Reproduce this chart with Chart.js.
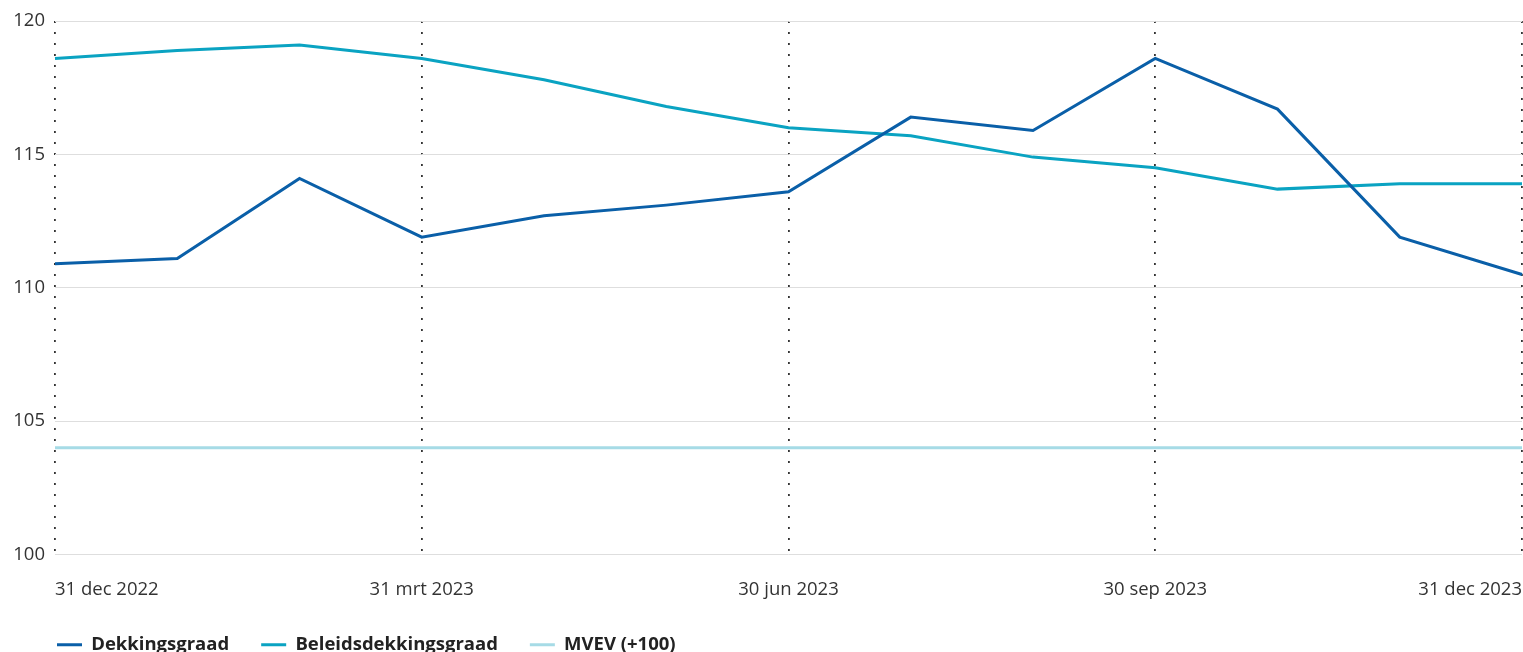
<!DOCTYPE html>
<html lang="nl">
<head>
<meta charset="utf-8">
<title>Dekkingsgraad 2023</title>
<script src="https://cdn.jsdelivr.net/npm/chart.js@4/dist/chart.umd.min.js"></script>
<style>
  html, body { margin: 0; padding: 0; background: #fff; overflow: hidden; }
  #wrap { position: relative; width: 1523px; height: 664px; }
</style>
</head>
<body>
<div id="wrap"><canvas id="chart"></canvas></div>
<script>
// --- data (month ends, 31 dec 2022 .. 31 dec 2023) ---
const months = [
  '31 dec 2022', '31 jan 2023', '28 feb 2023', '31 mrt 2023', '30 apr 2023',
  '31 mei 2023', '30 jun 2023', '31 jul 2023', '31 aug 2023', '30 sep 2023',
  '31 okt 2023', '30 nov 2023', '31 dec 2023'
];
const quarterIdx = [0, 3, 6, 9, 12];

const dekkingsgraad = [110.9, 111.1, 114.1, 111.9, 112.7, 113.1, 113.6, 116.4, 115.9, 118.6, 116.7, 111.9, 110.5];
const beleidsdekkingsgraad = [118.6, 118.9, 119.1, 118.6, 117.8, 116.8, 116.0, 115.7, 114.9, 114.5, 113.7, 113.9, 113.9];
const mvev = [104.0, 104.0, 104.0, 104.0, 104.0, 104.0, 104.0, 104.0, 104.0, 104.0, 104.0, 104.0, 104.0];

const yTicks = [100, 105, 110, 115, 120];

// --- colours ---
const C = {
  dark:  '#0a5fa8',
  teal:  '#0aa3c2',
  light: '#a6dbe6',
  grid:  '#dedede',
  dots:  '#333',
  text:  '#333'
};

const FONT = '"Open Sans", "Noto Sans", sans-serif';

function line(label, data, color) {
  return {
    label, data,
    borderColor: color,
    backgroundColor: color,
    borderWidth: 3,
    pointRadius: 0,
    tension: 0
  };
}

// shift legend so its first marker lines up with the plot's left edge
const legendShift = {
  id: 'legendShift',
  beforeDraw(chart) {
    if (chart.legend) chart.legend.left = 25;
  }
};

new Chart(document.getElementById('chart'), {
  type: 'line',
  data: {
    labels: months,
    datasets: [
      line('Dekkingsgraad', dekkingsgraad, C.dark),
      line('Beleidsdekkingsgraad', beleidsdekkingsgraad, C.teal),
      line('MVEV (+100)', mvev, C.light)
    ]
  },
  plugins: [legendShift],
  options: {
    responsive: true,
    maintainAspectRatio: false,
    animation: false,
    layout: { padding: { top: 20, right: 1, left: 0, bottom: 0 } },
    plugins: {
      tooltip: { enabled: false },
      legend: {
        position: 'bottom',
        align: 'start',
        labels: {
          boxWidth: 25,
          boxHeight: 3,
          padding: 32,
          color: '#222',
          font: { family: FONT, size: 18.5, weight: 'bold' },
          generateLabels(chart) {
            return chart.data.datasets.map((ds, i) => ({
              text: ds.label,
              fillStyle: ds.borderColor,
              strokeStyle: ds.borderColor,
              lineWidth: 0,
              fontColor: '#222',
              datasetIndex: i,
              hidden: false
            }));
          }
        }
      }
    },
    scales: {
      x: {
        offset: false,
        border: { display: false, dash: [2, 9] },
        grid: {
          drawTicks: false,
          lineWidth: 1.8,
          color: ctx => quarterIdx.includes(ctx.index) ? C.dots : 'rgba(0,0,0,0)'
        },
        ticks: {
          autoSkip: false,
          maxRotation: 0,
          align: 'inner',
          padding: 24,
          color: C.text,
          font: { family: FONT, size: 18.5 },
          callback: (v, i) => quarterIdx.includes(i) ? months[i] : ''
        },
        afterFit: s => { s.height = 49; s.paddingLeft = 0; s.paddingRight = 0; }
      },
      y: {
        min: 100,
        max: 120,
        border: { display: false },
        afterBuildTicks: s => { s.ticks = yTicks.map(v => ({ value: v })); },
        grid: { drawTicks: false, color: C.grid, lineWidth: 1 },
        ticks: {
          padding: 10,
          color: C.text,
          font: { family: FONT, size: 18.5 }
        },
        afterFit: s => { s.width = 55; }
      }
    }
  }
});
</script>
</body>
</html>
